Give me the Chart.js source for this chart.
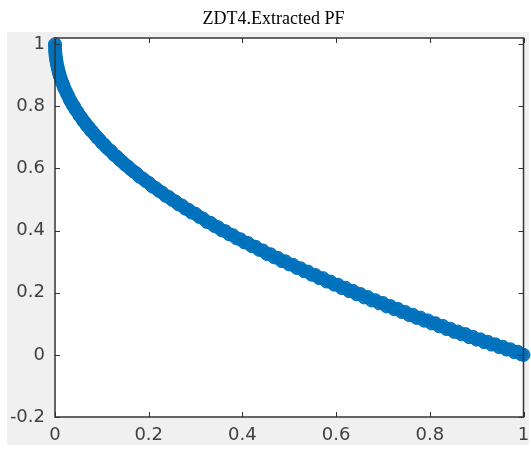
<!DOCTYPE html>
<html>
<head>
<meta charset="utf-8">
<script src="https://cdn.jsdelivr.net/npm/chart.js@4"></script>
<style>
  html, body { margin: 0; padding: 0; background: #fff; }
  canvas { display: block; }
</style>
</head>
<body>
<canvas id="chart" width="531" height="451"></canvas>
<script>
// values (f1, f2)
const f1 = [
  0, 0.0001, 0.0004, 0.0008, 0.0013, 0.002, 0.003, 0.004, 0.0055, 0.007, 0.0085, 0.010,
  0.012, 0.014, 0.016, 0.018, 0.020, 0.023, 0.026, 0.029, 0.032, 0.035, 0.038, 0.041,
  0.044, 0.048, 0.052, 0.056, 0.060, 0.064, 0.068, 0.072, 0.076, 0.080, 0.085, 0.090,
  0.095, 0.100, 0.105, 0.110, 0.115, 0.120, 0.126, 0.132, 0.138, 0.144, 0.150, 0.156,
  0.162, 0.168, 0.174, 0.180, 0.187, 0.194, 0.201, 0.208, 0.215, 0.222, 0.229, 0.236,
  0.243, 0.250, 0.257, 0.264, 0.271, 0.278, 0.285, 0.292, 0.300, 0.308, 0.316, 0.324,
  0.332, 0.340, 0.348, 0.356, 0.364, 0.372, 0.380, 0.388, 0.396, 0.404, 0.412, 0.420,
  0.428, 0.436, 0.444, 0.452, 0.460, 0.468, 0.476, 0.484, 0.492, 0.500, 0.508, 0.516,
  0.524, 0.532, 0.540, 0.548, 0.556, 0.564, 0.572, 0.580, 0.588, 0.596, 0.604, 0.612,
  0.620, 0.628, 0.636, 0.644, 0.652, 0.660, 0.668, 0.676, 0.684, 0.692, 0.700, 0.708,
  0.716, 0.724, 0.732, 0.740, 0.748, 0.756, 0.764, 0.772, 0.780, 0.788, 0.796, 0.804,
  0.812, 0.820, 0.828, 0.836, 0.844, 0.852, 0.860, 0.868, 0.876, 0.884, 0.892, 0.900,
  0.908, 0.916, 0.924, 0.932, 0.940, 0.948, 0.956, 0.964, 0.972, 0.980, 0.988, 0.995, 1.000
];
const f2 = [
  1.00, 0.990, 0.980, 0.972, 0.963, 0.955, 0.946, 0.936, 0.927, 0.917, 0.908, 0.899,
  0.892, 0.881, 0.875, 0.866, 0.858, 0.849, 0.839, 0.831, 0.820, 0.813, 0.804, 0.799,
  0.789, 0.782, 0.771, 0.764, 0.754, 0.748, 0.738, 0.733, 0.723, 0.718, 0.709, 0.699,
  0.693, 0.683, 0.677, 0.668, 0.661, 0.655, 0.644, 0.638, 0.628, 0.621, 0.612, 0.606,
  0.597, 0.590, 0.584, 0.574, 0.568, 0.559, 0.553, 0.542, 0.537, 0.528, 0.522, 0.512,
  0.508, 0.499, 0.494, 0.484, 0.481, 0.471, 0.467, 0.458, 0.454, 0.444, 0.439, 0.428,
  0.425, 0.415, 0.411, 0.401, 0.398, 0.388, 0.385, 0.375, 0.372, 0.362, 0.360, 0.350,
  0.348, 0.338, 0.336, 0.325, 0.324, 0.314, 0.312, 0.302, 0.301, 0.291, 0.290, 0.280,
  0.279, 0.269, 0.268, 0.258, 0.257, 0.247, 0.247, 0.236, 0.236, 0.226, 0.226, 0.215,
  0.216, 0.205, 0.206, 0.195, 0.196, 0.185, 0.186, 0.175, 0.176, 0.166, 0.167, 0.156,
  0.157, 0.147, 0.148, 0.138, 0.138, 0.128, 0.129, 0.119, 0.120, 0.110, 0.111, 0.101,
  0.102, 0.092, 0.093, 0.083, 0.084, 0.074, 0.075, 0.066, 0.067, 0.057, 0.058, 0.049,
  0.050, 0.041, 0.042, 0.033, 0.034, 0.025, 0.026, 0.017, 0.018, 0.009, 0.010, 0.002, 0.000
];
const xTicks = [0, 0.2, 0.4, 0.6, 0.8, 1];
const yTicks = [-0.2, 0, 0.2, 0.4, 0.6, 0.8, 1];
const title = 'ZDT4.Extracted PF';

const points = f1.map((x, i) => ({ x: x, y: f2[i] }));

// grey figure background + white axes area + title, MATLAB style
const figureBg = {
  id: 'figureBg',
  beforeDraw(chart) {
    const ctx = chart.ctx;
    const a = chart.chartArea;
    ctx.save();
    ctx.fillStyle = '#f0f0f0';
    ctx.fillRect(7, 32, 522, 413);
    ctx.fillStyle = '#fff';
    ctx.fillRect(a.left, a.top, a.right - a.left, a.bottom - a.top);
    ctx.fillStyle = '#000';
    ctx.font = '18px "Liberation Serif", "Times New Roman", serif';
    ctx.textAlign = 'center';
    ctx.textBaseline = 'middle';
    ctx.fillText(title, 273.5, 19);
    ctx.restore();
  }
};

// box with inward ticks on all four sides
const axesBox = {
  id: 'axesBox',
  afterDatasetsDraw(chart) {
    const ctx = chart.ctx;
    const a = chart.chartArea;
    const xs = chart.scales.x, ys = chart.scales.y;
    const len = 5;
    ctx.save();
    ctx.strokeStyle = '#333';
    ctx.lineWidth = 1.5;
    ctx.strokeRect(a.left, a.top, a.right - a.left, a.bottom - a.top);
    ctx.lineWidth = 1;
    ctx.beginPath();
    xTicks.forEach(v => {
      const px = Math.round(xs.getPixelForValue(v)) + 0.5;
      ctx.moveTo(px, a.bottom); ctx.lineTo(px, a.bottom - len);
      ctx.moveTo(px, a.top); ctx.lineTo(px, a.top + len);
    });
    yTicks.forEach(v => {
      const py = Math.round(ys.getPixelForValue(v)) + 0.5;
      ctx.moveTo(a.left, py); ctx.lineTo(a.left + len, py);
      ctx.moveTo(a.right, py); ctx.lineTo(a.right - len, py);
    });
    ctx.stroke();
    ctx.restore();
  }
};

const tickFont = { family: 'DejaVu Sans', size: 18 };
const fmt = v => String(Number(Number(v).toFixed(1)));

new Chart(document.getElementById('chart'), {
  type: 'scatter',
  data: {
    datasets: [{
      data: points,
      pointStyle: 'circle',
      pointRadius: 6.5,
      pointHoverRadius: 6.5,
      borderWidth: 1,
      borderColor: '#0072BD',
      backgroundColor: 'rgba(0, 114, 189, 0.92)',
      clip: false
    }]
  },
  options: {
    responsive: false,
    animation: false,
    devicePixelRatio: 1,
    layout: { padding: { left: 0, right: 5, top: 38, bottom: 0 } },
    plugins: {
      legend: { display: false },
      tooltip: { enabled: false },
      title: { display: false }
    },
    scales: {
      x: {
        type: 'linear',
        min: 0,
        max: 1,
        grid: { display: false, drawTicks: false },
        border: { display: false },
        afterBuildTicks: s => { s.ticks = xTicks.map(v => ({ value: v })); },
        afterFit: s => { s.height = 34; s.paddingLeft = 0; s.paddingRight = 0; },
        ticks: { color: '#404040', font: tickFont, padding: 8, maxRotation: 0, callback: fmt }
      },
      y: {
        type: 'linear',
        min: -0.2,
        max: 1.02,
        grid: { display: false, drawTicks: false },
        border: { display: false },
        afterBuildTicks: s => { s.ticks = yTicks.map(v => ({ value: v })); },
        afterFit: s => { s.width = 55; s.paddingTop = 0; s.paddingBottom = 0; },
        ticks: { color: '#404040', font: tickFont, padding: 10, callback: fmt }
      }
    }
  },
  plugins: [figureBg, axesBox]
});
</script>
</body>
</html>
